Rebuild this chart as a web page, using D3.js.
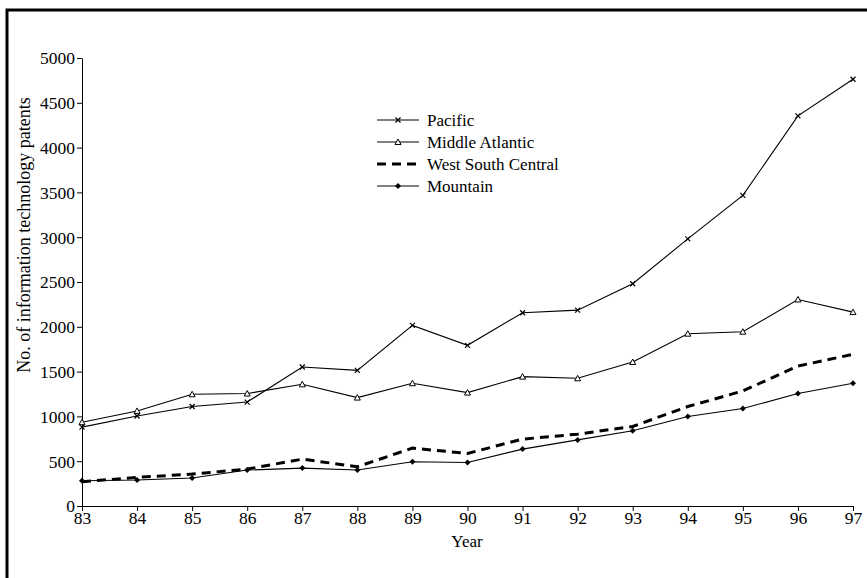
<!DOCTYPE html>
<html>
<head>
<meta charset="utf-8">
<script src="https://cdn.jsdelivr.net/npm/d3@7"></script>
<style>
  body { margin: 0; background: #fff; }
  svg text { font-family: "Liberation Serif", "Times New Roman", serif; fill: #000; }
</style>
</head>
<body>
<script>
// years on the x axis (19xx)
var years = [83, 84, 85, 86, 87, 88, 89, 90, 91, 92, 93, 94, 95, 96, 97];

// patent counts
var pacific       = [880, 1005, 1110, 1160, 1551, 1514, 2016, 1793, 2157, 2186, 2480, 2981, 3467, 4354, 4763];
var midAtlantic   = [935, 1061, 1247, 1255, 1358, 1210, 1370, 1266, 1444, 1425, 1607, 1923, 1945, 2305, 2164];
var westSouthCent = [270, 320, 356, 412, 523, 438, 646, 587, 746, 802, 888, 1110, 1284, 1562, 1693];
var mountain      = [282, 290, 312, 401, 423, 401, 494, 486, 635, 738, 839, 999, 1088, 1255, 1370];

var yTicks = [0, 500, 1000, 1500, 2000, 2500, 3000, 3500, 4000, 4500, 5000];

var series = [
  {name: "Pacific", values: pacific, marker: "x", dash: null, width: 1.1},
  {name: "Middle Atlantic", values: midAtlantic, marker: "triangle", dash: null, width: 1.1},
  {name: "West South Central", values: westSouthCent, marker: null, dash: "9,6", width: 3},
  {name: "Mountain", values: mountain, marker: "diamond", dash: null, width: 1.1}
];

var W = 867, H = 578;
var svg = d3.select("body").append("svg")
    .attr("width", W)
    .attr("height", H);

// outer frame (runs off the right and bottom of the page)
svg.append("rect")
    .attr("x", 7).attr("y", 10)
    .attr("width", 900).attr("height", 600)
    .attr("fill", "none")
    .attr("stroke", "#000")
    .attr("stroke-width", 3);

var x = d3.scaleLinear().domain([83, 97]).range([82, 853]);
var y = d3.scaleLinear().domain([0, 5000]).range([506, 58]);

// axes
var xAxis = svg.append("g")
    .attr("transform", "translate(0," + y(0) + ")")
    .call(d3.axisBottom(x).tickValues(years).tickSize(5).tickSizeOuter(0).tickFormat(d3.format("d")));
var yAxis = svg.append("g")
    .attr("transform", "translate(" + x(83) + ",0)")
    .call(d3.axisLeft(y).tickValues(yTicks).tickSize(5).tickSizeOuter(0).tickFormat(d3.format("d")));

[xAxis, yAxis].forEach(function(a) {
  a.selectAll("path, line").attr("stroke", "#000").attr("stroke-width", 1);
  a.selectAll("text").style("font-size", "17.5px").attr("fill", "#000");
});
xAxis.selectAll("text").attr("dy", "0.8em").attr("y", 4);
yAxis.selectAll("text").attr("x", -7).attr("dy", "0.34em");

// axis titles
svg.append("text")
    .attr("x", 467).attr("y", 547)
    .attr("text-anchor", "middle")
    .style("font-size", "17px")
    .text("Year");

svg.append("text")
    .attr("transform", "translate(30,235) rotate(-90)")
    .attr("text-anchor", "middle")
    .style("font-size", "18px")
    .text("No. of information technology patents");

// markers
function drawMarker(g, type, cx, cy) {
  if (type === "x") {
    var s = 2.5;
    g.append("path")
      .attr("d", "M" + (cx - s) + "," + (cy - s) + "L" + (cx + s) + "," + (cy + s) +
                 "M" + (cx - s) + "," + (cy + s) + "L" + (cx + s) + "," + (cy - s))
      .attr("stroke", "#000").attr("stroke-width", 1.2);
  } else if (type === "triangle") {
    g.append("path")
      .attr("d", "M" + cx + "," + (cy - 3) + "L" + (cx + 3) + "," + (cy + 2.5) + "L" + (cx - 3) + "," + (cy + 2.5) + "Z")
      .attr("fill", "#fff").attr("stroke", "#000").attr("stroke-width", 1);
  } else if (type === "diamond") {
    g.append("path")
      .attr("d", "M" + cx + "," + (cy - 3) + "L" + (cx + 3) + "," + cy + "L" + cx + "," + (cy + 3) + "L" + (cx - 3) + "," + cy + "Z")
      .attr("fill", "#000");
  }
}

var line = d3.line()
    .x(function(d, i) { return x(years[i]); })
    .y(function(d) { return y(d); });

series.forEach(function(s) {
  svg.append("path")
      .datum(s.values)
      .attr("d", line)
      .attr("fill", "none")
      .attr("stroke", "#000")
      .attr("stroke-width", s.width)
      .attr("stroke-dasharray", s.dash);
  if (s.marker) {
    var g = svg.append("g");
    s.values.forEach(function(v, i) { drawMarker(g, s.marker, x(years[i]), y(v)); });
  }
});

// legend
var legend = svg.append("g").attr("transform", "translate(377,120)");
series.forEach(function(s, i) {
  var row = legend.append("g").attr("transform", "translate(0," + (i * 22) + ")");
  row.append("line")
      .attr("x1", 0).attr("x2", 42)
      .attr("y1", 0).attr("y2", 0)
      .attr("stroke", "#000")
      .attr("stroke-width", s.width)
      .attr("stroke-dasharray", s.dash);
  if (s.marker) drawMarker(row, s.marker, 21, 0);
  row.append("text")
      .attr("x", 50).attr("y", 0)
      .attr("dy", "0.34em")
      .style("font-size", "17px")
      .text(s.name);
});
</script>
</body>
</html>
